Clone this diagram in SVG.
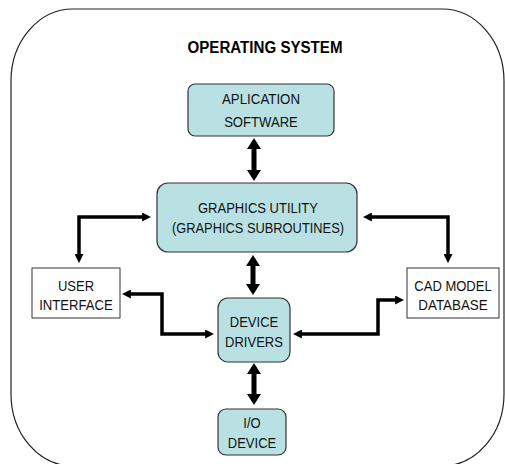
<svg xmlns="http://www.w3.org/2000/svg" width="505" height="464" viewBox="0 0 505 464">
<style>
text{font-family:"Liberation Sans",Arial,Helvetica,sans-serif;font-size:14px;fill:#111;text-anchor:middle}
.title{font-weight:bold;font-size:16px;fill:#000}
.teal{fill:#b9e1e3;stroke:#333;stroke-width:1.2}
.plain{fill:#fff;stroke:#333;stroke-width:1}
.thin{fill:none;stroke:#000;stroke-width:3.5;stroke-linejoin:miter;marker-start:url(#ah);marker-end:url(#ah)}
.thick{fill:none;stroke:#000;stroke-width:5;marker-start:url(#bh);marker-end:url(#bh)}
</style>
<defs>
<marker id="ah" viewBox="0 0 10 10" refX="1" refY="5" markerWidth="9" markerHeight="9" markerUnits="userSpaceOnUse" orient="auto-start-reverse">
<path d="M0,0 L10,5 L0,10 z" fill="#000"/>
</marker>
<marker id="bh" viewBox="0 0 11 14" refX="1" refY="7" markerWidth="11" markerHeight="14" markerUnits="userSpaceOnUse" orient="auto-start-reverse">
<path d="M0,0 L11,7 L0,14 z" fill="#000"/>
</marker>
</defs>
<rect x="0" y="0" width="505" height="464" fill="#fff"/>
<g id="os">
<rect x="11" y="9" width="493" height="457" rx="62" ry="72" fill="none" stroke="#222" stroke-width="1.2"/>
<text class="title" x="265" y="53" textLength="155" lengthAdjust="spacingAndGlyphs">OPERATING SYSTEM</text>
</g>
<g id="connectors">
<path class="thick" d="M254,148 L254,171"/>
<path class="thick" d="M253,265 L253,285"/>
<path class="thick" d="M254,373 L254,395"/>
<path class="thin" d="M143,217 L79,217 L79,255"/>
<path class="thin" d="M371,217 L448,217 L448,255"/>
<path class="thin" d="M130,294 L162,294 L162,334 L206,334"/>
<path class="thin" d="M301,334 L378,334 L378,300 L396,300"/>
</g>
<g id="app">
<rect class="teal" x="188" y="84" width="146" height="52" rx="7"/>
<text x="261" y="104" textLength="78" lengthAdjust="spacingAndGlyphs">APLICATION</text>
<text x="261" y="127" textLength="73.7" lengthAdjust="spacingAndGlyphs">SOFTWARE</text>
</g>
<g id="graphics">
<rect class="teal" x="157" y="183" width="200" height="69" rx="11"/>
<text x="258" y="213" textLength="120" lengthAdjust="spacingAndGlyphs">GRAPHICS UTILITY</text>
<text x="258" y="233" textLength="172" lengthAdjust="spacingAndGlyphs">(GRAPHICS SUBROUTINES)</text>
</g>
<g id="ui">
<rect class="plain" x="32" y="268" width="88" height="50"/>
<text x="76" y="291" textLength="36.1" lengthAdjust="spacingAndGlyphs">USER</text>
<text x="76" y="310" textLength="73.7" lengthAdjust="spacingAndGlyphs">INTERFACE</text>
</g>
<g id="cad">
<rect class="plain" x="407" y="268" width="92" height="50"/>
<text x="453" y="291" textLength="77.3" lengthAdjust="spacingAndGlyphs">CAD MODEL</text>
<text x="453" y="310" textLength="69.4" lengthAdjust="spacingAndGlyphs">DATABASE</text>
</g>
<g id="drivers">
<rect class="teal" x="218" y="298" width="72" height="64" rx="10"/>
<text x="254" y="327" textLength="48.4" lengthAdjust="spacingAndGlyphs">DEVICE</text>
<text x="254" y="347" textLength="57.8" lengthAdjust="spacingAndGlyphs">DRIVERS</text>
</g>
<g id="io">
<rect class="teal" x="218" y="409" width="68" height="46" rx="8"/>
<text x="252" y="428" textLength="17.3" lengthAdjust="spacingAndGlyphs">I/O</text>
<text x="252" y="448" textLength="48.4" lengthAdjust="spacingAndGlyphs">DEVICE</text>
</g>
</svg>
